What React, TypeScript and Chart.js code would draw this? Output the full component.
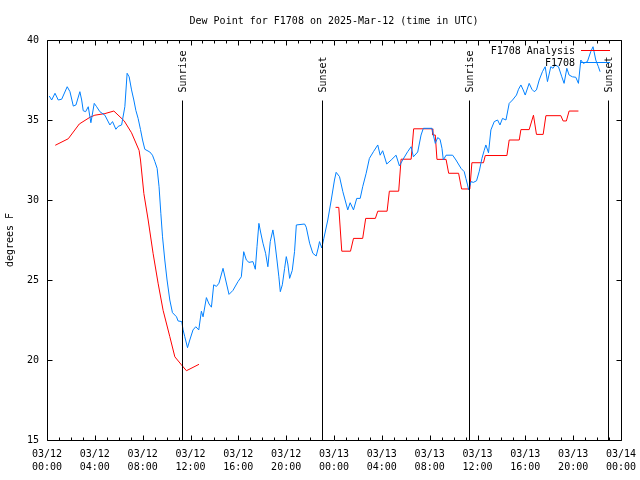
import React, { useEffect, useRef } from 'react';
import { Chart, registerables } from 'chart.js';

Chart.register(...registerables);

const FONT = '"DejaVu Sans Mono", "Liberation Mono", monospace';

const titleText = 'Dew Point for F1708 on 2025-Mar-12 (time in UTC)';
const yAxisLabel = 'degrees F';
const xTickLabels = [
  ['03/12', '00:00'], ['03/12', '04:00'], ['03/12', '08:00'], ['03/12', '12:00'],
  ['03/12', '16:00'], ['03/12', '20:00'], ['03/13', '00:00'], ['03/13', '04:00'],
  ['03/13', '08:00'], ['03/13', '12:00'], ['03/13', '16:00'], ['03/13', '20:00'],
  ['03/14', '00:00'],
];
const yMin = 15;
const yMax = 40;
const yStep = 5;
const xMin = 0;
const xMax = 48;
const xMajorStep = 4;
const xMinorStep = 1;

const seriesNames = ['F1708 Analysis', 'F1708'];
const seriesColors = ['#ff0000', '#0080ff'];

// hours since 03/12 00:00 UTC
const obsHours = [0.19,0.39,0.67,0.94,1.23,1.69,1.92,2.2,2.42,2.75,2.9,3.03,3.23,3.45,3.67,3.95,4.15,4.42,4.84,5.26,5.48,5.76,5.95,6.24,6.51,6.7,6.87,7.07,7.26,7.43,7.62,7.82,7.99,8.18,8.6,8.82,9.02,9.21,9.37,9.52,9.66,9.85,10.04,10.27,10.49,10.83,10.96,11.27,11.38,11.52,11.75,11.94,12.21,12.44,12.69,12.91,13.05,13.33,13.55,13.75,13.94,14.17,14.38,14.72,14.94,15.22,15.55,15.97,16.25,16.45,16.67,16.89,17.22,17.42,17.56,17.72,17.86,18.06,18.28,18.47,18.67,18.89,19.03,19.23,19.39,19.51,19.68,19.87,20.01,20.14,20.29,20.51,20.7,20.85,21.54,21.68,21.96,22.23,22.51,22.68,22.79,22.98,23.15,23.48,23.77,24.04,24.18,24.46,24.74,25.15,25.35,25.63,25.9,26.19,26.4,26.69,26.96,27.3,27.66,27.86,28.07,28.41,28.78,29.19,29.47,29.74,30.16,30.45,30.64,31.0,31.28,31.47,32.2,32.31,32.47,32.67,32.87,33.03,33.14,33.37,33.92,34.2,34.62,34.89,35.03,35.17,35.26,35.46,35.65,35.92,36.15,36.37,36.56,36.7,36.92,37.12,37.4,37.68,37.88,38.09,38.38,38.65,38.93,39.26,39.43,39.63,39.82,39.99,40.32,40.55,40.74,40.93,41.16,41.43,41.66,41.85,42.13,42.32,42.49,42.77,43.05,43.24,43.47,43.66,43.94,44.22,44.44,44.64,44.85,45.19,45.47,45.66,45.89,46.11,46.25];
const obsValues = [36.5,36.25,36.67,36.25,36.3,37.08,36.77,35.87,35.94,36.77,36.25,35.58,35.52,35.83,34.83,36.04,35.83,35.52,35.3,34.69,34.9,34.42,34.6,34.69,35.83,37.92,37.7,36.88,36.25,35.6,35.1,34.4,33.75,33.17,33.0,32.8,32.4,31.98,30.83,29.17,27.7,26.25,25.0,23.75,22.96,22.7,22.44,22.4,21.88,21.46,20.77,21.25,21.88,22.08,21.88,23.05,22.7,23.9,23.5,23.3,24.7,24.6,24.8,25.73,25.0,24.1,24.35,24.9,25.2,26.77,26.25,26.1,26.15,25.67,27.08,28.54,28.0,27.3,26.67,25.83,27.4,28.13,27.5,26.25,25.2,24.27,24.7,25.73,26.46,26.0,25.1,25.6,26.77,28.44,28.5,28.3,27.3,26.67,26.5,27.0,27.4,27.0,27.6,28.75,30.0,31.25,31.73,31.46,30.52,29.38,29.83,29.38,30.1,30.1,30.83,31.67,32.6,33.02,33.44,32.8,33.08,32.25,32.5,32.8,32.13,32.5,33.02,33.33,32.7,33.0,34.06,34.48,34.48,34.06,33.54,33.9,33.79,33.23,32.5,32.8,32.8,32.5,31.98,31.77,31.35,30.94,30.63,31.15,31.1,31.2,31.8,32.6,33.1,33.44,32.95,34.38,34.9,35.0,34.69,35.1,35.0,36.04,36.25,36.56,36.92,37.19,36.88,36.56,37.29,36.92,36.77,36.88,37.5,38.02,38.33,37.4,38.33,38.23,38.44,38.33,37.7,37.29,38.23,37.81,37.7,37.67,37.29,38.75,38.54,38.65,39.27,39.58,38.75,38.33,38.02];

const anaHours = [0.69,1.78,2.7,3.59,4.0,4.84,5.59,6.45,7.07,7.7,7.82,8.1,8.46,8.87,9.29,9.71,10.27,10.69,11.24,11.66,12.71,18,24.13,24.4,24.65,25.38,25.63,26.4,26.65,27.46,27.66,28.44,28.63,29.41,29.61,30.45,30.66,32.2,32.26,32.47,32.61,33.37,33.59,34.42,34.67,35.36,35.53,36.5,36.65,38.46,38.65,39.49,39.63,40.32,40.68,40.93,41.49,41.72,42.97,43.16,43.43,43.66,44.44];
const anaValues = [33.42,33.83,34.75,35.17,35.3,35.4,35.56,34.95,34.2,33.1,32.5,30.4,28.75,26.67,24.8,23.1,21.46,20.2,19.7,19.33,19.73,null,29.54,29.54,26.8,26.8,27.6,27.6,28.85,28.85,29.3,29.3,30.55,30.55,32.55,32.55,34.45,34.45,34.06,34.06,32.54,32.54,31.67,31.67,30.69,30.69,32.33,32.33,32.78,32.78,33.75,33.75,34.4,34.4,35.3,34.1,34.1,35.27,35.27,34.94,34.94,35.56,35.56];

const eventHours = [11.3, 22.97, 35.29, 46.93];
const eventLabels = ['Sunrise', 'Sunset', 'Sunrise', 'Sunset'];

const decorPlugin = {
  id: 'gnuDecor',
  afterDatasetsDraw(chart: any) {
    const { ctx, chartArea: a, scales } = chart;
    const xs = scales.x;
    const ys = scales.y;
    const L = Math.round(a.left) + 0.5;
    const R = Math.round(a.right) + 0.5;
    const T = Math.round(a.top) + 0.5;
    const B = Math.round(a.bottom) + 0.5;
    ctx.save();
    ctx.strokeStyle = '#000';
    ctx.fillStyle = '#000';
    ctx.lineWidth = 1;
    ctx.font = `10px ${FONT}`;

    // sunrise / sunset markers
    eventHours.forEach((h, i) => {
      const x = Math.round(xs.getPixelForValue(h)) + 0.5;
      ctx.beginPath();
      ctx.moveTo(x, T + 60);
      ctx.lineTo(x, B);
      ctx.stroke();
      ctx.save();
      ctx.translate(x + 1, T + 52);
      ctx.rotate(-Math.PI / 2);
      ctx.textAlign = 'left';
      ctx.textBaseline = 'middle';
      ctx.fillText(eventLabels[i], 0, 0);
      ctx.restore();
    });

    // frame
    ctx.beginPath();
    ctx.rect(L, T, R - L, B - T);
    ctx.stroke();

    // x ticks (bottom and top, inward)
    ctx.beginPath();
    for (let v = xMin; v <= xMax; v += xMinorStep) {
      const x = Math.round(xs.getPixelForValue(v)) + 0.5;
      const len = v % xMajorStep === 0 ? 5 : 3;
      ctx.moveTo(x, B); ctx.lineTo(x, B - len);
      ctx.moveTo(x, T); ctx.lineTo(x, T + len);
    }
    // y ticks (left and right, inward)
    for (let v = yMin; v <= yMax; v += yStep) {
      const y = Math.round(ys.getPixelForValue(v)) + 0.5;
      ctx.moveTo(L, y); ctx.lineTo(L + 5, y);
      ctx.moveTo(R, y); ctx.lineTo(R - 5, y);
    }
    ctx.stroke();

    // legend
    ctx.textAlign = 'right';
    ctx.textBaseline = 'middle';
    seriesNames.forEach((name, i) => {
      const y = T + 10.5 + i * 12;
      ctx.fillStyle = '#000';
      ctx.fillText(name, 575, y);
      ctx.strokeStyle = seriesColors[i];
      ctx.beginPath();
      ctx.moveTo(581, Math.round(y) - 0.5);
      ctx.lineTo(610, Math.round(y) - 0.5);
      ctx.stroke();
    });
    ctx.restore();
  },
};

export default function App() {
  const ref = useRef<HTMLCanvasElement | null>(null);
  useEffect(() => {
    if (!ref.current) return;
    const obs = obsHours.map((h, i) => ({ x: h, y: obsValues[i] }));
    const ana = anaHours.map((h, i) => ({ x: h, y: anaValues[i] }));
    const chart = new Chart(ref.current, {
      type: 'line',
      data: {
        datasets: [
          {
            label: seriesNames[1],
            data: obs,
            borderColor: seriesColors[1],
            borderWidth: 1,
            pointRadius: 0,
            tension: 0,
            fill: false,
          },
          {
            label: seriesNames[0],
            data: ana as any,
            borderColor: seriesColors[0],
            borderWidth: 1,
            pointRadius: 0,
            tension: 0,
            fill: false,
            spanGaps: false,
          },
        ],
      },
      options: {
        animation: false,
        responsive: false,
        events: [],
        layout: { padding: { left: 0, right: 19, top: 0, bottom: 0 } },
        plugins: {
          legend: { display: false },
          tooltip: { enabled: false },
          title: {
            display: true,
            text: titleText,
            fullSize: false,
            color: '#000',
            font: { family: FONT, size: 10, weight: 'normal' },
            padding: { top: 15, bottom: 13 },
          },
        },
        scales: {
          x: {
            type: 'linear',
            min: xMin,
            max: xMax,
            grid: { display: false, drawTicks: false },
            border: { display: false },
            ticks: {
              stepSize: xMajorStep,
              autoSkip: false,
              maxRotation: 0,
              padding: 8,
              color: '#000',
              font: { family: FONT, size: 10, lineHeight: 1.3 },
              callback: (v: any) => xTickLabels[Math.round(Number(v) / xMajorStep)] as any,
            },
            afterFit: (s: any) => {
              s.height = 40;
              s.paddingLeft = 0;
              s.paddingRight = 19;
            },
          },
          y: {
            type: 'linear',
            min: yMin,
            max: yMax,
            grid: { display: false, drawTicks: false },
            border: { display: false },
            ticks: {
              stepSize: yStep,
              padding: 8,
              color: '#000',
              font: { family: FONT, size: 10 },
            },
            title: {
              display: true,
              text: yAxisLabel,
              color: '#000',
              font: { family: FONT, size: 10 },
              padding: { top: 4, bottom: 0 },
            },
            afterFit: (s: any) => { s.width = 47; },
          },
        },
      },
      plugins: [decorPlugin],
    });
    return () => chart.destroy();
  }, []);
  return (
    <div style={{ position: 'fixed', left: 0, top: 0, width: 640, height: 480, background: '#fff' }}>
      <canvas ref={ref} width={640} height={480} style={{ display: 'block' }} />
    </div>
  );
}
